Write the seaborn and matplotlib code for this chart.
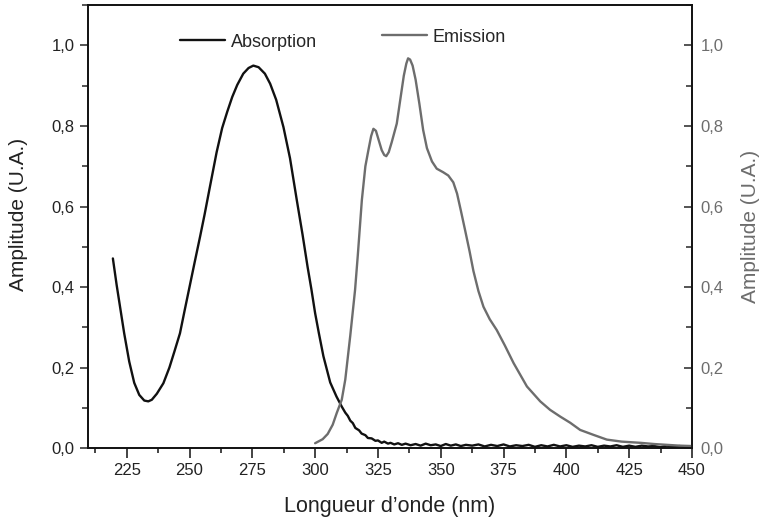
import pandas as pd
import matplotlib.pyplot as plt
import matplotlib.ticker as mticker
import seaborn as sns

# absorption spectrum
abs_x = [219.5, 221, 222.5, 224, 226, 228, 230, 232, 233.6, 235, 237, 239.6, 242, 244, 246.2,
         248, 250, 252, 254.2, 256, 258, 260.8, 263, 265, 267, 269, 271.4, 273.5, 275.4, 277.5,
         280, 282.1, 284.5, 287.4, 290, 292.7, 295, 297, 298.5, 300, 301.5, 303.3, 306.0, 308.5,
         310.6, 312, 313, 314, 315, 316, 317.5, 318.5, 320, 321, 322.5, 324, 325, 326.5, 327.5,
         329, 330, 331.5, 333, 334.5, 336, 338, 340, 342, 344, 346, 348, 350, 352, 354, 356, 358,
         360, 362.5, 365, 367.5, 370, 372.5, 375, 377.5, 380, 382.5, 385, 387.5, 390, 392.5, 395,
         397.5, 400, 402.5, 405, 407.5, 410, 412.5, 415, 417.5, 420, 422.5, 425, 427.5, 430,
         432.5, 435, 437.5, 440, 442.5, 445, 447.5, 450]
abs_y = [0.471, 0.405, 0.345, 0.285, 0.215, 0.162, 0.132, 0.118, 0.116, 0.120, 0.135, 0.161,
         0.200, 0.240, 0.285, 0.340, 0.400, 0.460, 0.525, 0.580, 0.645, 0.735, 0.795, 0.835,
         0.872, 0.902, 0.930, 0.944, 0.950, 0.946, 0.930, 0.905, 0.865, 0.797, 0.720, 0.616,
         0.530, 0.450, 0.395, 0.335, 0.285, 0.228, 0.163, 0.128, 0.103, 0.088, 0.080, 0.068,
         0.062, 0.050, 0.044, 0.036, 0.032, 0.025, 0.024, 0.018, 0.019, 0.013, 0.016, 0.011,
         0.013, 0.009, 0.012, 0.008, 0.011, 0.007, 0.010, 0.006, 0.011, 0.007, 0.009, 0.005,
         0.010, 0.006, 0.009, 0.005, 0.008, 0.006, 0.009, 0.004, 0.008, 0.005, 0.009, 0.004,
         0.007, 0.005, 0.008, 0.003, 0.007, 0.004, 0.008, 0.004, 0.007, 0.003, 0.006, 0.004,
         0.007, 0.003, 0.006, 0.004, 0.007, 0.003, 0.006, 0.003, 0.006, 0.004, 0.005, 0.002,
         0.006, 0.003, 0.005, 0.003, 0.004]

# emission spectrum
em_x = [300, 303, 305, 307, 308.6, 310.6, 312, 314, 315.9, 317, 318.6, 320, 321.2, 322.3,
        323.2, 324.2, 325.3, 326.5, 327.5, 328.3, 329.3, 330.5, 332.5, 334, 335.3, 336.3,
        337.0, 337.8, 338.8, 340, 341.5, 343, 344.5, 346.5, 348.4, 351, 353, 355, 356.5,
        358, 359.7, 361.5, 363.0, 365, 367.0, 369.5, 372.3, 375.5, 379.0, 384.3, 389.6,
        393.5, 397.6, 401.5, 405.5, 410.7, 416.1, 422, 429.5, 435, 440, 445, 450]
em_y = [0.012, 0.022, 0.035, 0.058, 0.087, 0.120, 0.170, 0.280, 0.393, 0.480, 0.616, 0.700,
        0.740, 0.775, 0.793, 0.788, 0.765, 0.740, 0.728, 0.725, 0.735, 0.760, 0.806, 0.870,
        0.925, 0.955, 0.968, 0.965, 0.950, 0.915, 0.855, 0.790, 0.745, 0.712, 0.694, 0.685,
        0.677, 0.660, 0.632, 0.590, 0.541, 0.488, 0.440, 0.390, 0.351, 0.320, 0.293, 0.255,
        0.211, 0.153, 0.116, 0.095, 0.078, 0.063, 0.045, 0.033, 0.021, 0.016, 0.013, 0.010,
        0.008, 0.006, 0.005]

absorption = pd.DataFrame({'x': abs_x, 'y': abs_y})
emission = pd.DataFrame({'x': em_x, 'y': em_y})

sns.set_style("ticks")
plt.rcParams['font.family'] = ['Liberation Sans', 'DejaVu Sans']

grey = '#6d6d6d'
comma = mticker.FuncFormatter(lambda v, p: f"{v:.1f}".replace('.', ','))

fig = plt.figure(figsize=(7.6, 5.21), dpi=100)
ax = fig.add_axes([0.1158, 0.140, 0.7947, 0.850])
ax2 = ax.twinx()

sns.lineplot(data=absorption, x='x', y='y', ax=ax, color='#111111', linewidth=1.7,
             label='Absorption', legend=False)
sns.lineplot(data=emission, x='x', y='y', ax=ax2, color=grey, linewidth=1.7,
             label='Emission', legend=False)

for a in (ax, ax2):
    a.set_xlim(209.6, 450)
    a.set_ylim(0, 1.1)
    a.yaxis.set_major_locator(mticker.MultipleLocator(0.2))
    a.yaxis.set_minor_locator(mticker.MultipleLocator(0.1))
    a.yaxis.set_major_formatter(comma)
    for s in a.spines.values():
        s.set_visible(True)
        s.set_color('#111111')
        s.set_linewidth(1.2)

ax.xaxis.set_major_locator(mticker.MultipleLocator(25))
ax.xaxis.set_minor_locator(mticker.MultipleLocator(12.5))

ax.tick_params(axis='x', which='both', bottom=True, top=False, direction='out',
               labelsize=12, colors='#111111', labelcolor='#222222')
ax.tick_params(axis='x', which='major', length=7, width=1.1)
ax.tick_params(axis='x', which='minor', length=3.5, width=1.1)
ax.tick_params(axis='y', which='both', left=True, right=False, direction='out',
               labelsize=12, labelcolor='#222222')
ax.tick_params(axis='y', which='major', length=6, width=1.1)
ax.tick_params(axis='y', which='minor', length=4, width=1.1)

# top ticks point inward, drawn by the twin axes
ax2.tick_params(axis='x', which='both', bottom=False, top=True, direction='in',
                labelbottom=False, labeltop=False)
ax2.tick_params(axis='x', which='major', length=7, width=1.1)
ax2.tick_params(axis='x', which='minor', length=3.5, width=1.1)
ax2.tick_params(axis='y', which='both', right=True, left=False, direction='in',
                labelsize=12, labelcolor=grey, pad=6)
ax2.tick_params(axis='y', which='major', length=6, width=1.1)
ax2.tick_params(axis='y', which='minor', length=4, width=1.1)

ax.set_xlabel("Longueur d\u2019onde (nm)", fontsize=15.5, color='#222222', labelpad=13)
ax.set_ylabel("Amplitude (U.A.)", fontsize=15, color='#222222')
ax2.set_ylabel("Amplitude (U.A.)", fontsize=15, color=grey)
ax.yaxis.set_label_coords(-0.099, 0.528)
ax2.yaxis.set_label_coords(1.081, 0.5)

ax.legend(loc='center left', bbox_to_anchor=(0.140, 0.9165), frameon=False, fontsize=13,
          handlelength=2.5, handletextpad=0.35, borderaxespad=0)
ax2.legend(loc='center left', bbox_to_anchor=(0.474, 0.928), frameon=False, fontsize=13,
           handlelength=2.5, handletextpad=0.35, borderaxespad=0)

fig.savefig('out.png', dpi=100)
